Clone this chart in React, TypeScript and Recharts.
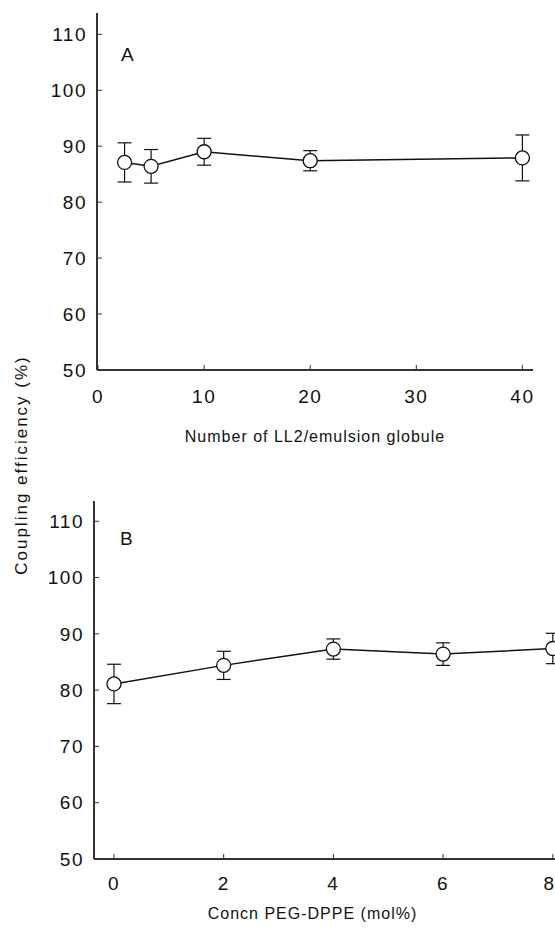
import { ErrorBar, Line, LineChart, XAxis, YAxis, Label } from "recharts";

// Panel A: coupling efficiency vs number of LL2 per emulsion globule
const ligandsPerGlobule = [2.5, 5, 10, 20, 40];
const efficiencyA = [87.1, 86.4, 89.0, 87.4, 87.9];
const errorA = [3.5, 3.0, 2.4, 1.8, 4.1];

// Panel B: coupling efficiency vs PEG-DPPE concentration
const pegConcn = [0, 2, 4, 6, 8];
const efficiencyB = [81.1, 84.4, 87.3, 86.4, 87.4];
const errorB = [3.5, 2.5, 1.8, 2.0, 2.7];

const ticksA = [0, 10, 20, 30, 40];
const ticksB = [0, 2, 4, 6, 8];
const yTicks = [50, 60, 70, 80, 90, 100, 110];

const dataA = ligandsPerGlobule.map((x, i) => ({ x, y: efficiencyA[i], err: errorA[i] }));
const dataB = pegConcn.map((x, i) => ({ x, y: efficiencyB[i], err: errorB[i] }));

const FONT = "'Liberation Sans', Arial, Helvetica, sans-serif";
const tickStyle = { fill: "#111", fontSize: 19, fontFamily: FONT, letterSpacing: 1.5 };
const axisLine = { stroke: "#333", strokeWidth: 2 };
const tickLine = { stroke: "#333", strokeWidth: 1 };
const titleStyle = { fill: "#111", fontSize: 16, fontFamily: FONT, letterSpacing: 1 };
const dotStyle = { r: 7, fill: "#fff", stroke: "#111", strokeWidth: 1.3 };

const panelLetter = (top: number, left: number) => ({
  position: "absolute" as const,
  top,
  left,
  fontFamily: FONT,
  fontSize: 19,
  color: "#111",
  lineHeight: 1,
});

export default function App() {
  return (
    <div style={{ position: "absolute", left: 0, top: 0, width: 555, height: 934, background: "#fff", overflow: "hidden" }}>
      <div style={{ position: "absolute", left: 0, top: 0 }}>
        <LineChart width={555} height={465} data={dataA} margin={{ top: 13, right: 22, left: 37, bottom: 15 }}>
          <XAxis
            dataKey="x"
            type="number"
            domain={[-0.1, 41]}
            ticks={ticksA}
            allowDataOverflow
            height={80}
            axisLine={axisLine}
            tickLine={tickLine}
            tickSize={-5}
            tickMargin={25}
            tick={tickStyle}
          >
            <Label value="Number of LL2/emulsion globule" position="insideBottom" offset={8} style={titleStyle} />
          </XAxis>
          <YAxis
            type="number"
            domain={[50, 113.8]}
            ticks={yTicks}
            allowDataOverflow
            width={60}
            axisLine={axisLine}
            tickLine={tickLine}
            tickSize={-5}
            tickMargin={15}
            tick={tickStyle}
          />
          <Line dataKey="y" stroke="#111" strokeWidth={1.5} dot={dotStyle} isAnimationActive={false}>
            <ErrorBar dataKey="err" width={7} stroke="#111" strokeWidth={1.2} direction="y" />
          </Line>
        </LineChart>
      </div>

      <div style={{ position: "absolute", left: 0, top: 470 }}>
        <LineChart width={555} height={464} data={dataB} margin={{ top: 31, right: 0, left: 34, bottom: 5 }}>
          <XAxis
            dataKey="x"
            type="number"
            domain={[-0.364, 8.04]}
            ticks={ticksB}
            allowDataOverflow
            height={70}
            axisLine={axisLine}
            tickLine={tickLine}
            tickSize={-5}
            tickMargin={23}
            tick={tickStyle}
          >
            <Label value="Concn PEG-DPPE (mol%)" position="insideBottom" offset={10} dx={-12} style={titleStyle} />
          </XAxis>
          <YAxis
            type="number"
            domain={[50, 113.6]}
            ticks={yTicks}
            allowDataOverflow
            width={60}
            axisLine={axisLine}
            tickLine={tickLine}
            tickSize={-5}
            tickMargin={15}
            tick={tickStyle}
          />
          <Line dataKey="y" stroke="#111" strokeWidth={1.5} dot={dotStyle} isAnimationActive={false}>
            <ErrorBar dataKey="err" width={7} stroke="#111" strokeWidth={1.2} direction="y" />
          </Line>
        </LineChart>
      </div>

      <div style={panelLetter(45, 121)}>A</div>
      <div style={panelLetter(529, 120)}>B</div>

      <div
        style={{
          position: "absolute",
          left: 22,
          top: 465,
          transform: "translate(-50%, -50%) rotate(-90deg)",
          whiteSpace: "nowrap",
          fontFamily: FONT,
          fontSize: 17,
          letterSpacing: 2,
          color: "#111",
        }}
      >
        Coupling efficiency (%)
      </div>
    </div>
  );
}
